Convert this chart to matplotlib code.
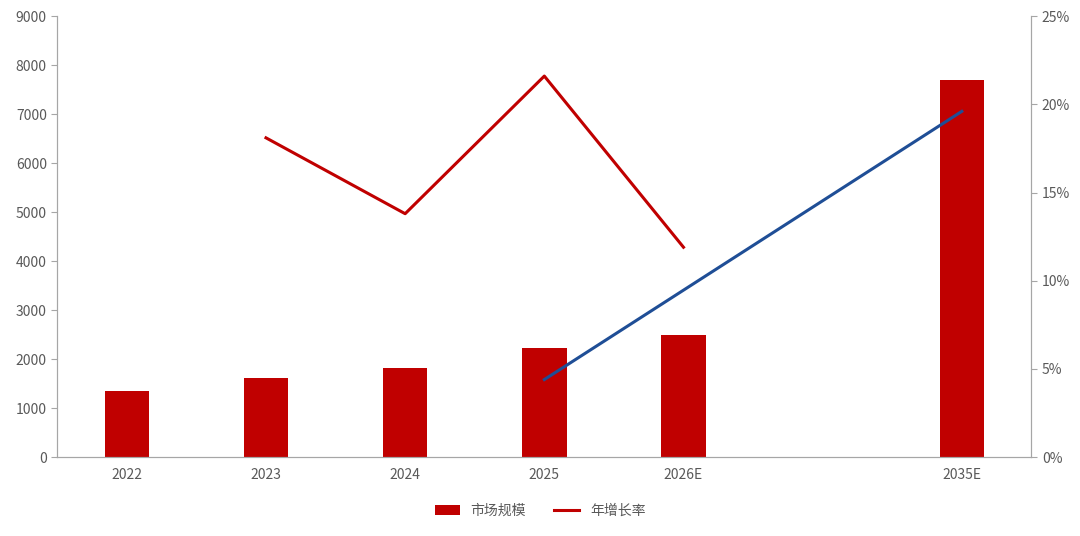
import matplotlib
matplotlib.use("Agg")
import matplotlib.pyplot as plt
from matplotlib.ticker import FuncFormatter
import numpy as np

plt.rcParams['font.family'] = ['Noto Sans CJK SC', 'DejaVu Sans']

categories = ["2022", "2023", "2024", "2025", "2026E", "", "2035E"]
market_size = [1360, 1610, 1830, 2220, 2490, np.nan, 7700]
growth_cats = ["2023", "2024", "2025", "2026E"]
growth_rate = [0.181, 0.138, 0.216, 0.119]
cagr_cats = ["2025", "2035E"]
cagr_vals = [0.044, 0.196]

fig = plt.figure(figsize=(10.8, 5.36), dpi=100)
ax = fig.add_axes([0.053, 0.147, 0.902, 0.823])
x = np.arange(len(categories))
ax.bar(x, market_size, width=0.32, color='#C00000', label='市场规模', zorder=2)
ax.set_xlim(-0.5, len(categories) - 0.5)
ax.set_ylim(0, 9000)
ax.set_yticks(range(0, 9001, 1000))
ax.set_xticks(x)
ax.set_xticklabels(categories)
ax.tick_params(axis='both', labelsize=10, colors='#595959', length=0)
ax.tick_params(axis='x', pad=8)
for s in ['top']:
    ax.spines[s].set_visible(False)
for s in ['left', 'right', 'bottom']:
    ax.spines[s].set_color('#A6A6A6')
ax.tick_params(axis='y', length=4, direction='out', color='#A6A6A6')

ax2 = ax.twinx()
ax2.set_ylim(0, 0.25)
ax2.set_yticks(np.arange(0, 0.2501, 0.05))
ax2.yaxis.set_major_formatter(FuncFormatter(lambda v, p: f"{v*100:.0f}%"))
ax2.tick_params(axis='y', labelsize=10, colors='#595959', length=4, color='#A6A6A6')
ax2.spines['top'].set_visible(False)
for s in ['left', 'right', 'bottom']:
    ax2.spines[s].set_color('#A6A6A6')
gx = [categories.index(c) for c in growth_cats]
ax2.plot(gx, growth_rate, color='#C00000', lw=2.2, label='年增长率')
cx = [categories.index(c) for c in cagr_cats]
ax2.plot(cx, cagr_vals, color='#1F4E96', lw=2.2)

h1, l1 = ax.get_legend_handles_labels()
h2, l2 = ax2.get_legend_handles_labels()
fig.legend(h1 + h2, l1 + l2, loc='lower center', bbox_to_anchor=(0.5, 0.01), ncol=2,
           frameon=False, fontsize=10, labelcolor='#595959', handlelength=1.8)

fig.savefig("out.png", dpi=100)
